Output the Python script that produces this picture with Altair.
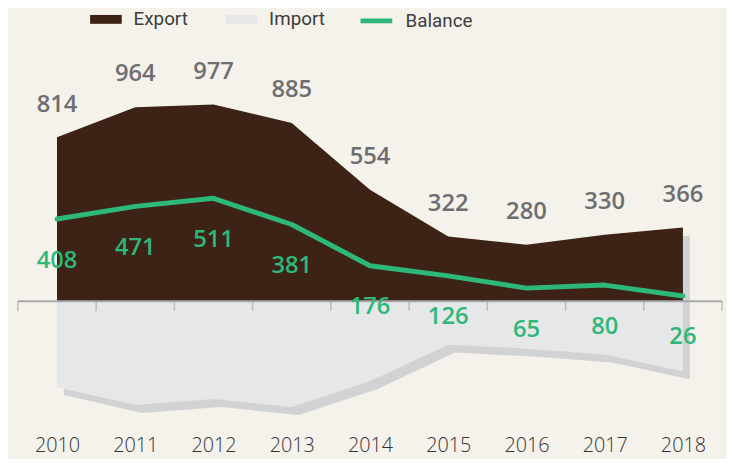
import altair as alt
import pandas as pd

years = [2010, 2011, 2012, 2013, 2014, 2015, 2016, 2017, 2018]
export_vals = [814, 964, 977, 885, 554, 322, 280, 330, 366]
import_vals = [427, 516, 486, 526, 398, 216, 236, 265, 349]
balance_vals = [408, 471, 511, 381, 176, 126, 65, 80, 26]
axis_ticks = [2009.5, 2010.5, 2011.5, 2012.5, 2013.5, 2014.5, 2015.5, 2016.5, 2017.5, 2018.5]

BG = "#f5f1eb"
BROWN = "#3c2315"
LIGHT = "#e6e7e8"
SHADOW = "#d1d2d4"
GREEN = "#2db87a"
GRAYTXT = "#6d6e71"
AXISC = "#a7a9ac"

wide = pd.DataFrame({"year": years, "export": export_vals,
                     "imp_neg": [-v for v in import_vals], "balance": balance_vals})

long_rows = []
for y, e, i in zip(years, export_vals, import_vals):
    long_rows.append({"year": y, "series": "Export", "top": e, "bottom": 0})
    long_rows.append({"year": y, "series": "Import", "top": 0, "bottom": -i})
long_df = pd.DataFrame(long_rows)
bal_df = pd.DataFrame({"year": years, "balance": balance_vals, "series": ["Balance"] * len(years)})
ticks_df = pd.DataFrame({"year": axis_ticks, "y": [0] * len(axis_ticks)})
rule_df = pd.DataFrame({"year": [min(axis_ticks)], "x2": [max(axis_ticks)], "y": [0]})

FONT = "Open Sans"
LFONT = "Roboto"
xscale = alt.Scale(domain=[2009.5, 2018.5], nice=False, zero=False)
yscale = alt.Scale(domain=[-639, 1287], nice=False, zero=False)

X = alt.X("year:Q", scale=xscale,
          axis=alt.Axis(values=years, format="d", domain=False, ticks=False, grid=False,
                        labelFontSize=20, labelColor="#333333", labelFont=FONT,
                        labelFontWeight=300, labelPadding=6, title=None))

shadow = alt.Chart(wide).mark_area(color=SHADOW, xOffset=7, yOffset=8, y2Offset=8).encode(
    x=X, y=alt.Y("export:Q", scale=yscale, axis=None), y2="imp_neg:Q")

areas = alt.Chart(long_df).mark_area(opacity=1).encode(
    x=X,
    y=alt.Y("top:Q", scale=yscale, axis=None),
    y2="bottom:Q",
    fill=alt.Fill("series:N", scale=alt.Scale(domain=["Export", "Import"], range=[BROWN, LIGHT]),
                  legend=alt.Legend(title=None, orient="none", direction="horizontal",
                                    legendX=72, legendY=-40,
                                    symbolType="M-1,-0.28H1V0.28H-1Z", symbolSize=1024,
                                    labelFont=LFONT, labelFontSize=19,
                                    labelColor="#3d3d3d", columnPadding=37, labelOffset=11)),
)

rule = alt.Chart(rule_df).mark_rule(color=AXISC, strokeWidth=2).encode(
    x=X, x2="x2:Q", y=alt.Y("y:Q", scale=yscale, axis=None))

ticks = alt.Chart(ticks_df).mark_tick(color=AXISC, size=10, thickness=1.5, yOffset=5).encode(
    x=X, y=alt.Y("y:Q", scale=yscale, axis=None))

line = alt.Chart(bal_df).mark_line(strokeWidth=5, strokeCap="round", strokeJoin="round").encode(
    x=X,
    y=alt.Y("balance:Q", scale=yscale, axis=None),
    stroke=alt.Stroke("series:N", scale=alt.Scale(domain=["Balance"], range=[GREEN]),
                      legend=alt.Legend(title=None, orient="none", legendX=344, legendY=-40,
                                        symbolType="stroke", symbolSize=1024, symbolStrokeWidth=5,
                                        labelFont=LFONT, labelFontSize=19,
                                        labelColor="#3d3d3d", labelOffset=11)),
)

exp_labels = alt.Chart(wide).mark_text(dy=-33, fontSize=24, font=FONT, fontWeight=600,
                                       color=GRAYTXT).encode(
    x=X, y=alt.Y("export:Q", scale=yscale, axis=None), text="export:Q")

bal_labels = alt.Chart(bal_df).mark_text(dy=42, fontSize=24, font=FONT, fontWeight=600,
                                         color=GREEN).encode(
    x=X, y=alt.Y("balance:Q", scale=yscale, axis=None), text="balance:Q")

chart = alt.layer(shadow, areas, rule, ticks, line, exp_labels, bal_labels).properties(
    width=712, height=392,
    autosize=alt.AutoSizeParams(type="none"),
    padding={"left": 10, "top": 32, "right": 5, "bottom": 27},
    background=BG,
).configure_view(stroke=None)

chart.save("out.html", embed_options={"renderer": "svg", "actions": False})
